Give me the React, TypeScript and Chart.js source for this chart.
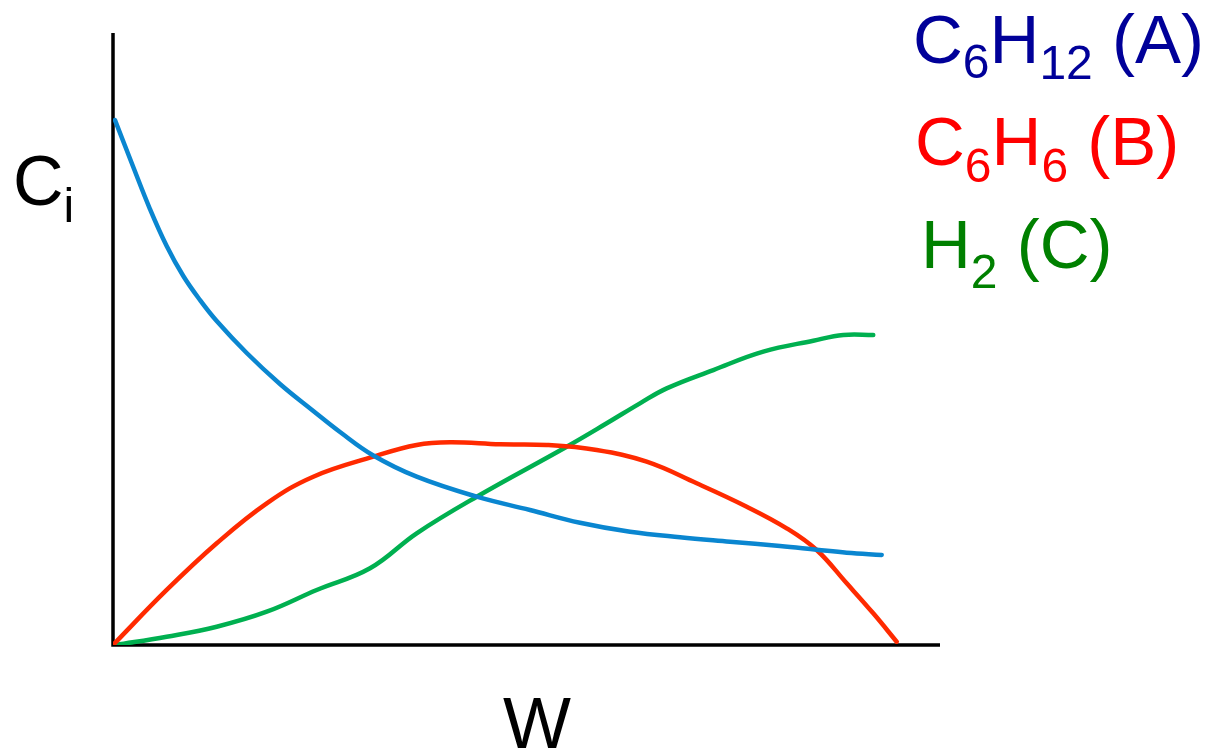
import React, { useEffect, useRef } from "react";
import { Chart, registerables } from "chart.js";

Chart.register(...registerables);

// W (0..100) and concentration Ci (0..100)
const blueW = [0.24, 2.45, 4.47, 6.49, 8.5, 10.52, 12.54, 16.17, 20.19, 24.22, 27.45, 31.48, 36.72, 43.98, 50.42, 56.47, 62.52, 68.56, 74.61, 80.65, 85.09, 88.72, 92.95];
const blueC = [85.78, 78.1, 71.24, 65.2, 60.29, 56.37, 52.94, 47.71, 42.65, 38.24, 34.8, 30.96, 27.5, 24.23, 22.06, 19.98, 18.51, 17.6, 16.88, 16.18, 15.57, 15.08, 14.71];

const redW = [0, 6.49, 12.54, 18.59, 24.22, 31.48, 36.72, 40.75, 46.8, 52.44, 58.49, 64.53, 70.58, 76.63, 81.46, 85.09, 88.72, 91.93, 94.76];
const redC = [0, 8.99, 16.62, 23.15, 27.5, 30.77, 32.68, 33.12, 32.79, 32.68, 31.86, 29.95, 26.42, 22.6, 19.07, 15.52, 10.08, 5.18, 0.54];

const greenW = [0.3, 6.49, 12.54, 18.59, 24.63, 31.08, 36.72, 43.98, 54.86, 59.7, 63.72, 66.95, 72.59, 78.63, 84.68, 88.31, 91.93];
const greenC = [0, 1.36, 2.99, 5.44, 8.99, 12.53, 18.25, 24.23, 32.4, 36.23, 39.49, 41.94, 44.93, 47.93, 49.72, 50.65, 50.65];

const FONT = '"Liberation Sans", Arial, sans-serif';

const pts = (xs: number[], ys: number[]) => xs.map((x, i) => ({ x, y: ys[i] }));

const axesPlugin = {
  id: "axesLines",
  beforeDatasetsDraw(chart: any) {
    const { ctx, scales } = chart;
    const x0 = scales.x.getPixelForValue(0);
    const x1 = scales.x.getPixelForValue(100);
    const y0 = scales.y.getPixelForValue(0);
    const y1 = scales.y.getPixelForValue(100);
    ctx.save();
    ctx.strokeStyle = "#000";
    ctx.lineWidth = 3.5;
    ctx.beginPath();
    ctx.moveTo(x0, y1);
    ctx.lineTo(x0, y0);
    ctx.lineTo(x1, y0);
    ctx.stroke();
    ctx.restore();
  },
};

function Label(props: { left: number; baseline: number; size: number; color: string; children: React.ReactNode }) {
  const top = props.baseline - 0.8465 * props.size;
  return (
    <div
      style={{
        position: "absolute",
        left: props.left,
        top,
        fontFamily: FONT,
        fontSize: props.size,
        lineHeight: 1,
        color: props.color,
        whiteSpace: "nowrap",
      }}
    >
      {props.children}
    </div>
  );
}

function Sub(props: { size: number; shift: number; children: React.ReactNode }) {
  return (
    <span style={{ fontSize: props.size, position: "relative", top: props.shift, verticalAlign: "baseline" }}>
      {props.children}
    </span>
  );
}

export default function App() {
  const ref = useRef<HTMLCanvasElement>(null);

  useEffect(() => {
    if (!ref.current) return;
    const common = { pointRadius: 0, borderWidth: 4.5, tension: 0.4, fill: false, borderCapStyle: "round" as const, borderJoinStyle: "round" as const };
    const chart = new Chart(ref.current, {
      type: "line",
      data: {
        datasets: [
          { label: "C6H12 (A)", data: pts(blueW, blueC), borderColor: "#0a86d0", ...common },
          { label: "C6H6 (B)", data: pts(redW, redC), borderColor: "#ff2a00", ...common },
          { label: "H2 (C)", data: pts(greenW, greenC), borderColor: "#00b050", ...common },
        ],
      },
      options: {
        animation: false,
        responsive: true,
        maintainAspectRatio: false,
        layout: { padding: { left: 113, top: 33, right: 274, bottom: 107 } },
        plugins: { legend: { display: false }, tooltip: { enabled: false } },
        scales: {
          x: { type: "linear", min: 0, max: 100, display: false },
          y: { type: "linear", min: 0, max: 100, display: false },
        },
      },
      plugins: [axesPlugin],
    });
    return () => chart.destroy();
  }, []);

  return (
    <div style={{ position: "fixed", left: 0, top: 0, width: 1214, height: 752, background: "#fff", overflow: "hidden" }}>
      <canvas ref={ref} />
      <Label left={13} baseline={205} size={70} color="#000">
        C<Sub size={48} shift={17}>i</Sub>
      </Label>
      <Label left={503} baseline={748} size={72} color="#000">
        W
      </Label>
      <Label left={913} baseline={63} size={69} color="#000099">
        C<Sub size={48} shift={15}>6</Sub>H<Sub size={48} shift={16}>12</Sub> (A)
      </Label>
      <Label left={915} baseline={165} size={69} color="#ff0000">
        C<Sub size={48} shift={17}>6</Sub>H<Sub size={48} shift={17}>6</Sub> (B)
      </Label>
      <Label left={921} baseline={268} size={69} color="#008000">
        H<Sub size={48} shift={20}>2</Sub> (C)
      </Label>
    </div>
  );
}
